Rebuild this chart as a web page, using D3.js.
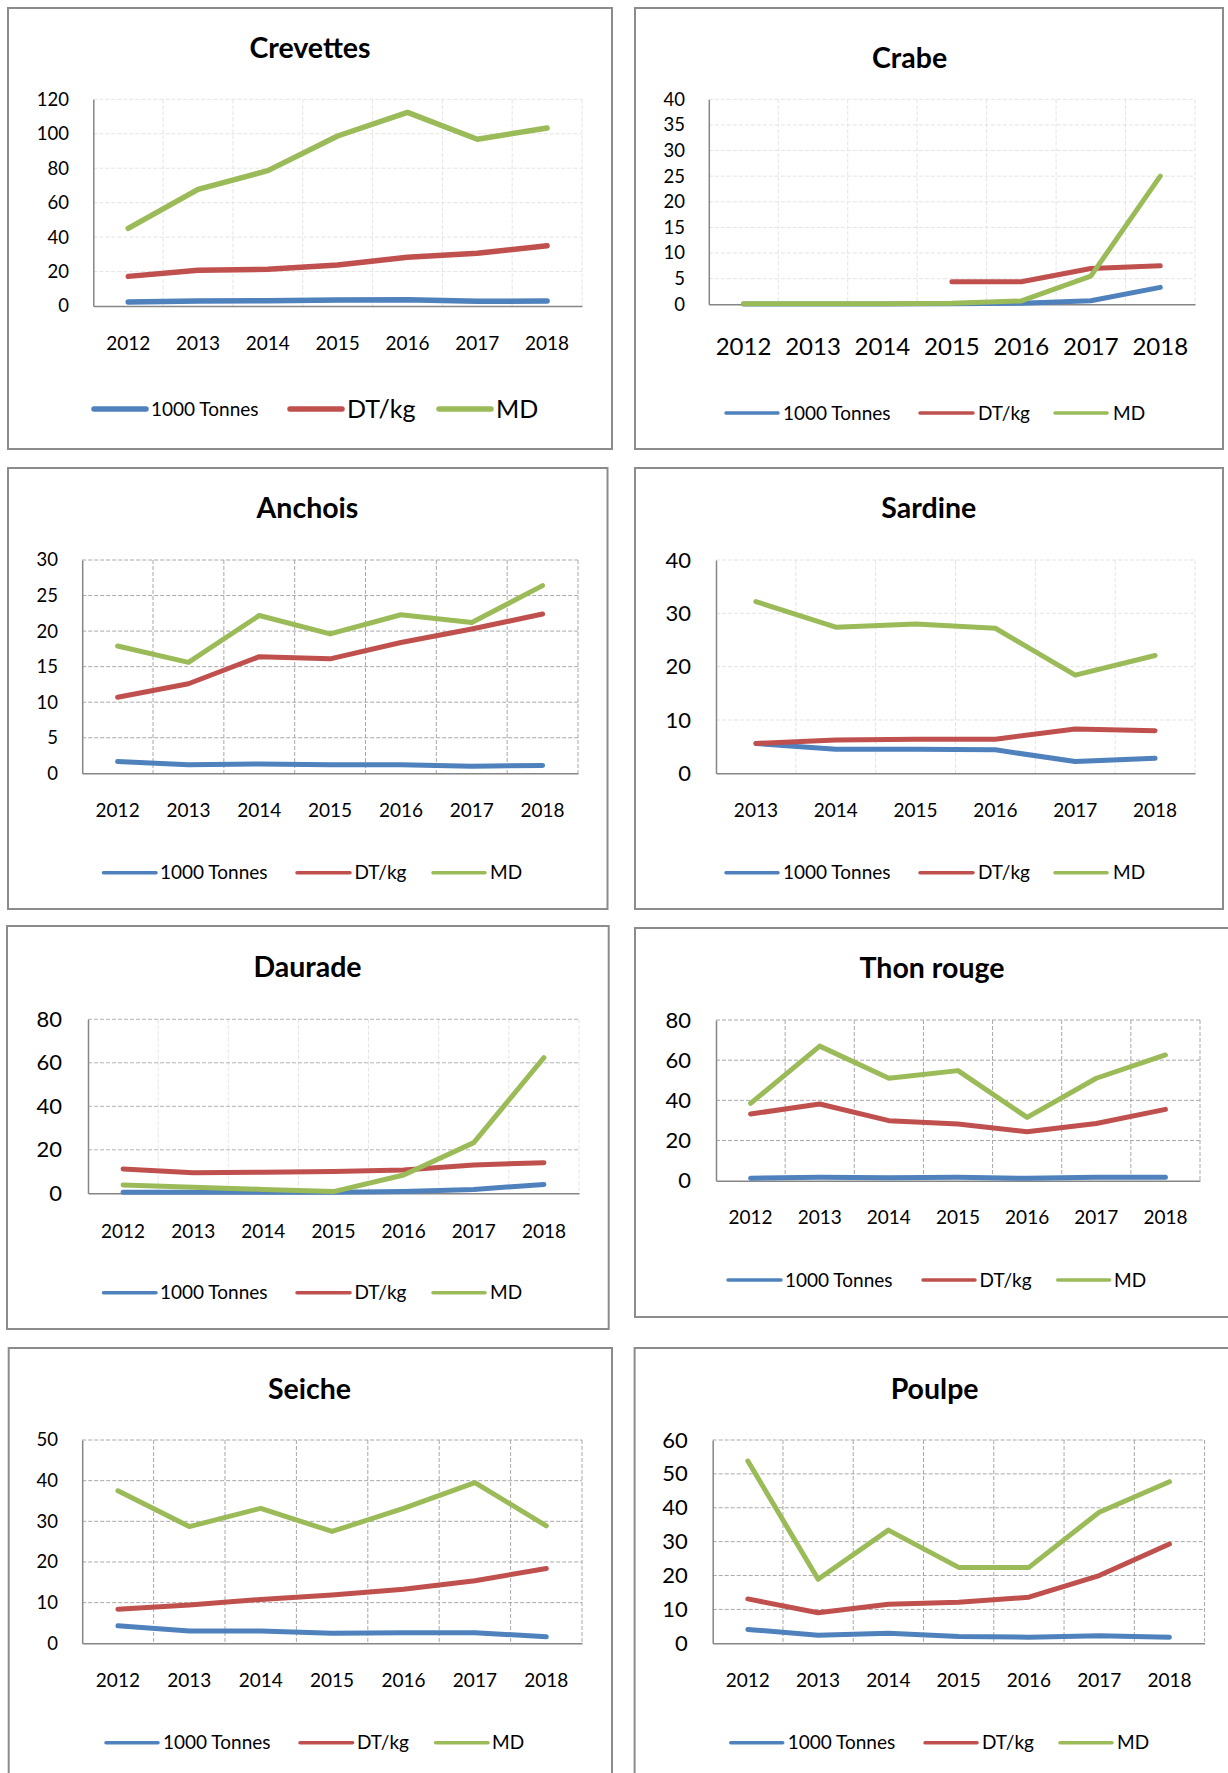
<!DOCTYPE html>
<html><head><meta charset="utf-8">
<script src="https://cdn.jsdelivr.net/npm/d3@7"></script>
<style>
body{margin:0;background:#fff;}
svg{display:block;font-family:Lato,'Open Sans',sans-serif;}
</style>
</head><body>
<svg id="c" width="1228" height="1773"></svg>
<script>
// ---- categories ----
const years = ["2012","2013","2014","2015","2016","2017","2018"];
const yearsSardine = ["2013","2014","2015","2016","2017","2018"];
const seriesNames = ["1000 Tonnes","DT/kg","MD"];

// ---- series values ----
const crevettesTonnes = [2.3, 2.9, 3.1, 3.5, 3.7, 2.7, 2.9];
const crevettesDTkg   = [17.2, 20.7, 21.3, 23.8, 28.3, 30.6, 35.0];
const crevettesMD     = [45.1, 67.7, 78.6, 98.7, 112.4, 96.8, 103.3];

const crabeTonnes = [0.05, 0.05, 0.05, 0.1, 0.2, 0.7, 3.3];
const crabeDTkg   = [null, null, null, 4.4, 4.4, 7.0, 7.5];
const crabeMD     = [0.1, 0.1, 0.1, 0.2, 0.65, 5.5, 25.0];

const anchoisTonnes = [1.65, 1.2, 1.3, 1.2, 1.2, 1.0, 1.1];
const anchoisDTkg   = [10.7, 12.6, 16.4, 16.1, 18.4, 20.3, 22.4];
const anchoisMD     = [17.9, 15.6, 22.2, 19.6, 22.3, 21.2, 26.4];

const sardineTonnes = [5.6, 4.5, 4.5, 4.4, 2.2, 2.8];
const sardineDTkg   = [5.6, 6.25, 6.4, 6.4, 8.3, 8.0];
const sardineMD     = [32.2, 27.4, 28.0, 27.2, 18.4, 22.1];

const dauradeTonnes = [0.5, 0.5, 0.5, 0.5, 0.8, 1.8, 4.1];
const dauradeDTkg   = [11.2, 9.5, 9.7, 10.0, 10.7, 13.0, 14.1];
const dauradeMD     = [3.8, 2.8, 1.8, 0.8, 8.4, 23.3, 62.4];

const thonTonnes = [1.2, 1.7, 1.5, 1.7, 1.2, 1.7, 1.7];
const thonDTkg   = [33.2, 38.2, 29.9, 28.2, 24.4, 28.5, 35.5];
const thonMD     = [38.5, 67.0, 51.0, 54.8, 31.5, 51.0, 62.6];

const seicheTonnes = [4.3, 3.0, 3.0, 2.5, 2.6, 2.6, 1.6];
const seicheDTkg   = [8.4, 9.4, 10.8, 11.9, 13.3, 15.4, 18.4];
const seicheMD     = [37.5, 28.7, 33.2, 27.5, 33.2, 39.5, 28.9];

const poulpeTonnes = [4.1, 2.4, 3.0, 2.0, 1.8, 2.2, 1.8];
const poulpeDTkg   = [13.1, 9.0, 11.5, 12.1, 13.6, 20.0, 29.3];
const poulpeMD     = [53.8, 18.9, 33.4, 22.4, 22.4, 38.7, 47.7];

// ---- y axis ranges ----
const yDomains = {Crevettes:[0,120,20], Crabe:[0,40,5], Anchois:[0,30,5], Sardine:[0,40,10],
                  Daurade:[0,80,20], "Thon rouge":[0,80,20], Seiche:[0,50,10], Poulpe:[0,60,10]};

// ---- layout / styles (kept apart from data) ----
const seriesColors = ["#4F81BD","#C0504D","#9BBB59"];
const gridLight = {h:"#e4e4e4", v:"#e4e4e4", dash:"4,2"};
const gridDark  = {h:"#a8a8a8", v:"#a8a8a8", dash:"4,2"};
const gridMixed = {h:"#b4b4b4", v:"#e4e4e4", dash:"4,2"};
const LF = 19; // legend font
const legA = [[103.5,156,160],[297,350,354.5],[433,485,490]];
const legB = [[726,778,783],[920,973,978],[1055,1107,1113]];

const panels = [
 {title:"Crevettes", cats:years, vals:[crevettesTonnes,crevettesDTkg,crevettesMD],
  box:[8,8,612,449], plot:[93.3,99.3,582,306], tx:310, tb:58.3, ylx:69, yfs:18.5, xly:343.3, xfs:19,
  ly:409, leg:[[94,146,151,LF],[290,342,347,25],[439,491,496,25]], lw:5.5, llw:5.5, grid:gridLight},
 {title:"Crabe", cats:years, vals:[crabeTonnes,crabeDTkg,crabeMD],
  box:[635,8,1223,449], plot:[708.8,99.3,1195,304.3], tx:909.6, tb:67.7, ylx:685, yfs:18.5, xly:347, xfs:24,
  ly:413, leg:legB.map(d=>d.concat(LF)), lw:5, llw:3.5, grid:gridLight},
 {title:"Anchois", cats:years, vals:[anchoisTonnes,anchoisDTkg,anchoisMD],
  box:[8,468,607.5,909], plot:[82.2,560,578,773.3], tx:307.5, tb:518.3, ylx:58, yfs:18.5, xly:810.7, xfs:19,
  ly:872.7, leg:legA.map(d=>d.concat(LF)), lw:5, llw:3.5, grid:gridDark},
 {title:"Sardine", cats:yearsSardine, vals:[sardineTonnes,sardineDTkg,sardineMD],
  box:[635,468,1223,909], plot:[716,560,1195,773.3], tx:928.8, tb:518.3, ylx:691, yfs:22, xly:810.7, xfs:19,
  ly:872.7, leg:legB.map(d=>d.concat(LF)), lw:5, llw:3.5, grid:gridLight},
 {title:"Daurade", cats:years, vals:[dauradeTonnes,dauradeDTkg,dauradeMD],
  box:[7,926,608.7,1329], plot:[88,1019.3,579,1193.3], tx:307.5, tb:977.3, ylx:62, yfs:22, xly:1231, xfs:19,
  ly:1292.7, leg:legA.map(d=>d.concat(LF)), lw:5, llw:3.5, grid:gridMixed},
 {title:"Thon rouge", cats:years, vals:[thonTonnes,thonDTkg,thonMD],
  box:[635,928,1240,1317], plot:[716,1020,1200,1180.7], tx:932, tb:978.3, ylx:691, yfs:22, xly:1217.7, xfs:19,
  ly:1280, leg:[[728,781,785,LF],[923,975,979.6,LF],[1057.7,1109.6,1114,LF]], lw:5, llw:3.5, grid:gridDark},
 {title:"Seiche", cats:years, vals:[seicheTonnes,seicheDTkg,seicheMD],
  box:[8.7,1348,612,1790], plot:[82.2,1440,582,1643.3], tx:309.5, tb:1399.3, ylx:58, yfs:18.5, xly:1680.7, xfs:19,
  ly:1742.7, leg:[[106,158,163,LF],[300,352.6,357,LF],[435.6,488,492,LF]], lw:5, llw:3.5, grid:gridDark},
 {title:"Poulpe", cats:years, vals:[poulpeTonnes,poulpeDTkg,poulpeMD],
  box:[634.6,1348,1240,1790], plot:[712.7,1440,1204.6,1643.3], tx:934.6, tb:1399.3, ylx:687.7, yfs:22, xly:1680.7, xfs:19,
  ly:1742.7, leg:[[730.8,782.7,787.7,LF],[925,977,982,LF],[1060,1112,1117,LF]], lw:5, llw:3.5, grid:gridDark}
];

const svg = d3.select("#c");
svg.append("rect").attr("width",1228).attr("height",1773).attr("fill","#fff");

panels.forEach(p => {
  const g = svg.append("g");
  const [bx0,by0,bx1,by1] = p.box;
  g.append("rect").attr("x",bx0).attr("y",by0).attr("width",bx1-bx0).attr("height",by1-by0)
    .attr("fill","#fff").attr("stroke","#8c8c8c").attr("stroke-width",2);

  const [L,T,R,B] = p.plot;
  const [y0,y1,step] = yDomains[p.title];
  const x = d3.scaleBand().domain(p.cats).range([L,R]).paddingInner(0).paddingOuter(0);
  const y = d3.scaleLinear().domain([y0,y1]).range([B,T]);
  const ticks = d3.range(y0, y1+step/2, step);

  // gridlines
  const grid = g.append("g").attr("stroke-dasharray",p.grid.dash).attr("stroke-width",1);
  p.cats.forEach((c,i) => { if(i>0) grid.append("line").attr("stroke",p.grid.v).attr("x1",x(c)).attr("x2",x(c)).attr("y1",T).attr("y2",B); });
  grid.append("line").attr("stroke",p.grid.v).attr("x1",R).attr("x2",R).attr("y1",T).attr("y2",B);
  ticks.filter(t=>t>y0).forEach(t => grid.append("line").attr("stroke",p.grid.h).attr("x1",L).attr("x2",R).attr("y1",y(t)).attr("y2",y(t)));

  // axes
  const yAxis = d3.axisLeft(y).tickValues(ticks).tickSize(0).tickPadding(0).tickFormat(d3.format("d"));
  const ya = g.append("g").attr("transform",`translate(${L},0)`).call(yAxis);
  ya.select(".domain").attr("stroke","#868686").attr("stroke-width",1.5);
  ya.selectAll("text").attr("x",p.ylx-L).attr("font-size",p.yfs).attr("fill","#000").attr("font-family","Lato,'Open Sans',sans-serif");

  const xAxis = d3.axisBottom(x).tickSize(0).tickPadding(0);
  const xa = g.append("g").attr("transform",`translate(0,${B})`).call(xAxis);
  xa.select(".domain").attr("stroke","#868686").attr("stroke-width",1.5);
  xa.selectAll("text").attr("y",p.xly-B).attr("dy","0.35em").attr("font-size",p.xfs).attr("fill","#000").attr("font-family","Lato,'Open Sans',sans-serif");

  // series lines
  p.vals.forEach((vals,si) => {
    const line = d3.line().defined(d=>d.v!==null)
      .x(d=>x(d.c)+x.bandwidth()/2).y(d=>y(d.v));
    g.append("path").datum(p.cats.map((c,i)=>({c, v:vals[i]})))
      .attr("d",line).attr("fill","none").attr("stroke",seriesColors[si])
      .attr("stroke-width",p.lw).attr("stroke-linejoin","round").attr("stroke-linecap","round");
  });

  // title
  g.append("text").attr("x",p.tx).attr("y",p.tb).attr("text-anchor","middle")
    .attr("font-weight","bold").attr("font-size",28.5).attr("fill","#000").text(p.title);

  // legend
  p.leg.forEach((l,si) => {
    g.append("line").attr("x1",l[0]).attr("x2",l[1]).attr("y1",p.ly).attr("y2",p.ly)
      .attr("stroke",seriesColors[si]).attr("stroke-width",p.llw).attr("stroke-linecap","round");
    g.append("text").attr("x",l[2]).attr("y",p.ly).attr("dy","0.35em").attr("font-size",l[3])
      .attr("fill","#000").text(seriesNames[si]);
  });
});
</script>
</body></html>
